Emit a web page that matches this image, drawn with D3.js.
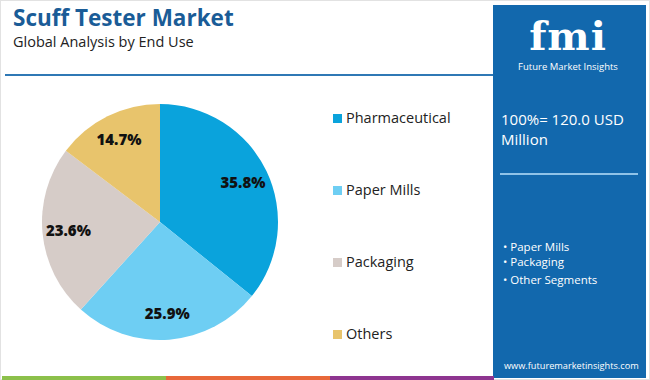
<!DOCTYPE html>
<html><head><meta charset="utf-8">
<script src="https://cdn.jsdelivr.net/npm/d3@7"></script>
<style>body{margin:0;background:#fff}svg{display:block}</style>
</head><body><svg id="c" width="650" height="380"></svg>
<script>
const categories = ["Pharmaceutical", "Paper Mills", "Packaging", "Others"];
const values = [35.8, 25.9, 23.6, 14.7];
const colors = ["#0aa3dc", "#6ecef3", "#d6ccc8", "#e8c46c"];
const bulletItems = ["Paper Mills", "Packaging", "Other Segments"];
const title = "Scuff Tester Market";
const subtitle = "Global Analysis by End Use";
const totalText = ["100%= 120.0 USD", "Million"];

const svg = d3.select("#c");
const F = "'Open Sans', sans-serif";

svg.append("rect").attr("x",0.5).attr("y",0.5).attr("width",649).attr("height",379)
  .attr("fill","#fff").attr("stroke","#e2e2e2");

// title
svg.append("text").attr("x",13).attr("y",26).attr("font-family",F).attr("font-weight",700)
  .attr("font-size",22.5).attr("fill","#1a5c97").text(title);
svg.append("text").attr("x",13).attr("y",47).attr("font-family",F)
  .attr("font-size",14.5).attr("fill","#222").text(subtitle);
svg.append("line").attr("x1",5).attr("x2",493).attr("y1",75).attr("y2",75)
  .attr("stroke","#2f78b5").attr("stroke-width",2);

// pie
const cx = 160, cy = 222, r = 118;
const pie = d3.pie().sort(null).value(d => d)(values);
const arc = d3.arc().innerRadius(0).outerRadius(r);
const labelArc = d3.arc().innerRadius(92).outerRadius(92);
const g = svg.append("g").attr("transform",`translate(${cx},${cy})`);
g.selectAll("path").data(pie).join("path").attr("d",arc).attr("fill",(d,i)=>colors[i]);
g.selectAll("text").data(pie).join("text")
  .attr("transform",d=>`translate(${labelArc.centroid(d)})`)
  .attr("text-anchor","middle").attr("dy","0.35em")
  .attr("font-family",F).attr("font-weight",800).attr("font-size",15).attr("fill","#111")
  .text(d=>d.value.toFixed(1)+"%");

// legend
const ly = d3.scalePoint().domain(categories).range([118,334]);
const lg = svg.append("g");
categories.forEach((c,i)=>{
  lg.append("rect").attr("x",333).attr("y",ly(c)-4).attr("width",9).attr("height",9).attr("fill",colors[i]);
  lg.append("text").attr("x",346).attr("y",ly(c)).attr("dy","0.35em").attr("font-family",F)
    .attr("font-size",14.5).attr("fill","#222").text(c);
});

// right panel
svg.append("rect").attr("x",493).attr("y",5).attr("width",153).attr("height",373).attr("fill","#1268ad");
svg.append("text").attr("x",568).attr("y",50).attr("text-anchor","middle").attr("font-family","'DejaVu Serif', serif")
  .attr("font-weight",700).attr("font-size",40).attr("fill","#fff").attr("letter-spacing",1).text("fmi");
svg.append("text").attr("x",568).attr("y",70).attr("text-anchor","middle").attr("font-family",F)
  .attr("font-size",9.5).attr("fill","#fff").text("Future Market Insights");
totalText.forEach((t,i)=>{
  svg.append("text").attr("x",501).attr("y",125+i*20).attr("font-family",F)
    .attr("font-size",15).attr("fill","#fff").text(t);
});
svg.append("line").attr("x1",500).attr("x2",638).attr("y1",174).attr("y2",174)
  .attr("stroke","#8fc3e8").attr("stroke-width",2);
bulletItems.forEach((t,i)=>{
  svg.append("text").attr("x",503).attr("y",[251,266,284][i]).attr("font-family",F)
    .attr("font-size",11.5).attr("fill","#fff").text("\u2022 "+t);
});
svg.append("text").attr("x",504).attr("y",369).attr("font-family",F)
  .attr("font-size",9.2).attr("fill","#fff").text("www.futuremarketinsights.com");

// bottom bars
const barCols = ["#8cc04b","#e8683a","#8e3590"];
barCols.forEach((c,i)=>{
  svg.append("rect").attr("x",2+i*164).attr("y",376).attr("width",164).attr("height",4).attr("fill",c);
});
</script></body></html>
